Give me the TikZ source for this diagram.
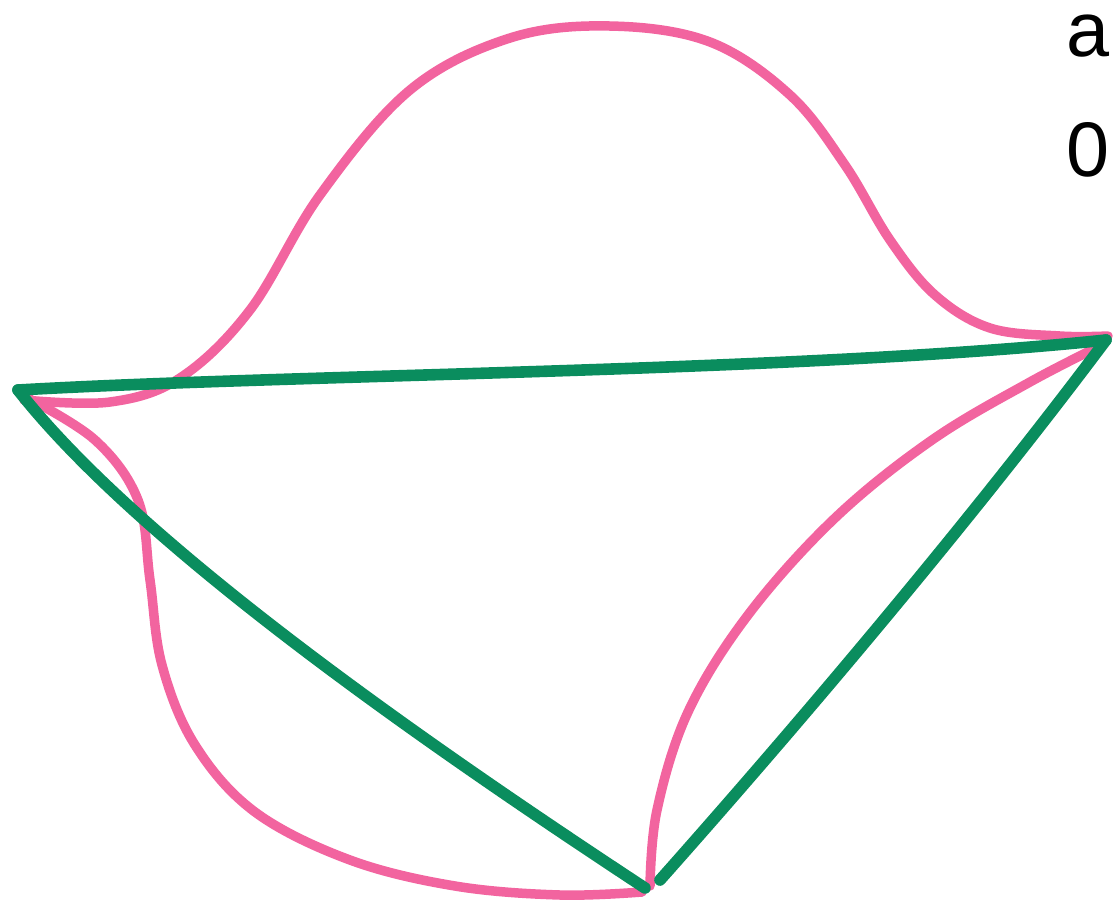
\documentclass[tikz,border=0pt]{standalone}
\usepackage{fontspec}
\setmainfont{Liberation Sans}
\definecolor{penpink}{HTML}{F2649F}
\definecolor{pengreen}{HTML}{0A8D5E}
\tikzset{
  pinkline/.style={draw=penpink,line width=2.7pt,line cap=round,line join=round},
  greenline/.style={draw=pengreen,line width=3.3pt,line cap=round,line join=round},
  label/.style={font=\fontsize{22}{26}\selectfont,inner sep=0pt}
}
\begin{document}
\begin{tikzpicture}[x=0.01cm,y=-0.01cm]
  \useasboundingbox (0,0) rectangle (1120,908);
  \coordinate (L) at (18,390);
  \coordinate (R) at (1106,340);
  \coordinate (B) at (645,888);
  % pink curves
  \draw[pinkline] plot[smooth,tension=0.6] coordinates {(24,400) (110,402) (180,378) (250,310) (320,195) (410,90) (510,38) (610,26) (710,42) (790,95) (845,165) (890,240) (935,295) (990,328) (1060,336) (1108,336)};
  \draw[pinkline] plot[smooth,tension=0.6] coordinates {(24,396) (95,440) (138,500) (150,580) (162,665) (195,745) (255,812) (350,860) (455,886) (560,895) (642,892)};
  \draw[pinkline] plot[smooth,tension=0.6] coordinates {(650,886) (657,810) (688,712) (748,615) (835,518) (932,440) (1030,382) (1104,344)};
  % green triangle
  \draw[greenline] (L) .. controls (300,374) and (800,372) .. (R);
  \draw[greenline] (L) .. controls (140,545) and (420,740) .. (B);
  \draw[greenline] (R) .. controls (960,535) and (780,745) .. (660,880);
  % corner text
  \node[label,anchor=base west] (ta) at (1066,56) {a};
  \node[label,anchor=base west] (tz) at (1066,176) {0};
\end{tikzpicture}
\end{document}
